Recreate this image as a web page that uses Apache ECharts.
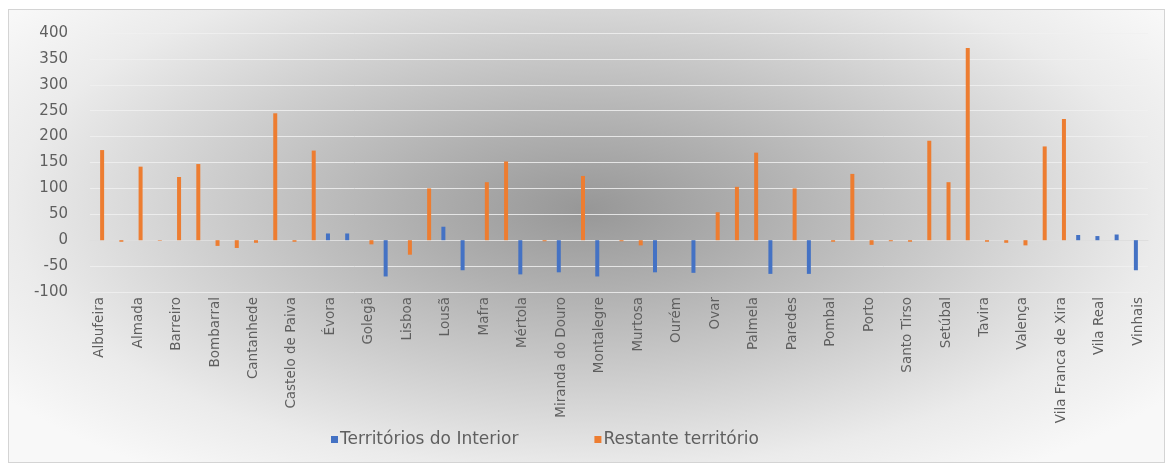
<!DOCTYPE html>
<html>
<head>
<meta charset="utf-8">
<script src="https://cdn.jsdelivr.net/npm/echarts@6/dist/echarts.min.js"></script>
<style>
  html, body { margin: 0; padding: 0; background: #ffffff; }
  #frame {
    position: absolute; left: 8px; top: 9px; width: 1155px; height: 452px;
    border: 1px solid #d4d4d4;
    background: radial-gradient(ellipse 62% 72% at 50% 44%, #979797 0%, #b0b0b0 25%, #d0d0d0 55%, #ebebeb 80%, #f8f8f8 100%);
  }
  #chart { position: absolute; left: 0; top: 0; width: 1167px; height: 466px; }
</style>
</head>
<body>
<div id="frame"></div>
<div id="chart"></div>
<script>
// Municipalities (alphabetical); every other name is shown on the axis
const municipios = [
  'Albufeira', 'Alenquer', 'Almada', 'Amadora', 'Barreiro', 'Benavente',
  'Bombarral', 'Braga', 'Cantanhede', 'Cascais', 'Castelo de Paiva', 'Coimbra',
  'Évora', 'Fundão', 'Golegã', 'Guarda', 'Lisboa', 'Loulé',
  'Lousã', 'Macedo de Cavaleiros', 'Mafra', 'Maia', 'Mértola', 'Mira',
  'Miranda do Douro', 'Moita', 'Montalegre', 'Montijo', 'Murtosa', 'Oleiros',
  'Ourém', 'Ourique', 'Ovar', 'Paços de Ferreira', 'Palmela', 'Pampilhosa da Serra',
  'Paredes', 'Penamacor', 'Pombal', 'Portimão', 'Porto', 'Santarém',
  'Santo Tirso', 'Seixal', 'Setúbal', 'Sintra', 'Tavira', 'Torres Vedras',
  'Valença', 'Vila do Conde', 'Vila Franca de Xira', 'Vila Nova de Foz Côa', 'Vila Real', 'Vila Velha de Ródão',
  'Vinhais'
];

// Territórios do Interior
const interior = [
  null, null, null, null, null, null,
  null, null, null, null, null, null,
  13, 13, null, -70, null, null,
  26, -58, null, null, -66, null,
  -62, null, -70, null, null, -62,
  null, -63, null, null, null, -65,
  null, -65, null, null, null, null,
  null, null, null, null, null, null,
  null, null, null, 10, 8, 11,
  -58
];

// Restante território
const restante = [
  174, -3, 142, -1, 122, 147,
  -11, -15, -5, 245, -3, 173,
  null, null, -8, null, -28, 100,
  null, null, 112, 152, null, -2,
  null, 124, null, -2, -10, null,
  null, null, 54, 103, 169, null,
  100, null, -3, 128, -9, -2,
  -3, 192, 112, 371, -3, -5,
  -10, 181, 234, null, null, null,
  null
];

const yTicks = { min: -100, max: 400, step: 50 };

const chart = echarts.init(document.getElementById('chart'), null, { renderer: 'canvas' });

const textColor = '#5f5f5f';
const font = "'DejaVu Sans', 'Noto Sans', sans-serif";

chart.setOption({
  backgroundColor: 'transparent',
  animation: false,
  textStyle: { fontFamily: font },
  grid: { left: 90, right: 19, top: 33, bottom: 174, containLabel: false },
  legend: {
    bottom: 13,
    left: 326,
    itemWidth: 7,
    itemHeight: 7,
    itemGap: 76,
    icon: 'rect',
    textStyle: { color: textColor, fontSize: 17, fontFamily: font, padding: [0, 0, 0, -3] },
    data: ['Territórios do Interior', 'Restante território']
  },
  xAxis: {
    type: 'category',
    data: municipios,
    axisLine: { onZero: true, lineStyle: { color: '#dedede', width: 1 } },
    axisTick: { show: false },
    axisLabel: {
      interval: 1,
      rotate: 90,
      margin: 5,
      color: textColor,
      fontSize: 13.5,
      fontFamily: font
    },
    splitLine: { show: false }
  },
  yAxis: {
    type: 'value',
    min: yTicks.min,
    max: yTicks.max,
    interval: yTicks.step,
    axisLine: { show: false },
    axisTick: { show: false },
    axisLabel: { color: textColor, fontSize: 15, margin: 22, fontFamily: font },
    splitLine: { lineStyle: { color: 'rgba(240,240,240,0.85)', width: 1 } }
  },
  series: [
    {
      name: 'Territórios do Interior',
      type: 'bar',
      data: interior,
      barWidth: 4,
      barGap: '25%',
      itemStyle: { color: '#4472C4' }
    },
    {
      name: 'Restante território',
      type: 'bar',
      data: restante,
      barWidth: 4,
      barGap: '25%',
      itemStyle: { color: '#ED7D31' }
    }
  ]
});
</script>
</body>
</html>
